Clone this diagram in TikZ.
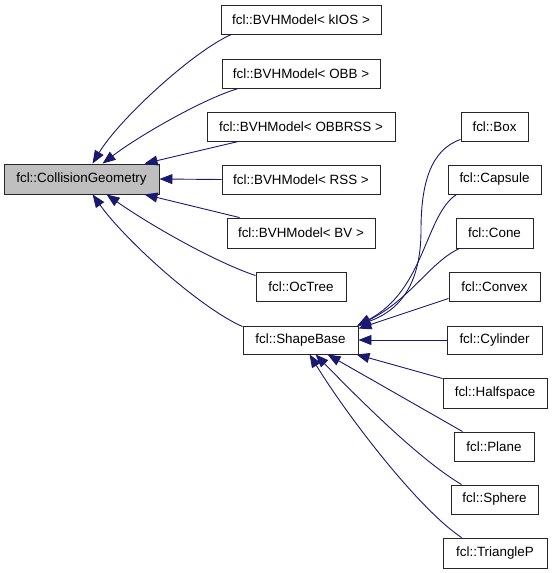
\documentclass[tikz,border=0pt]{standalone}
\usepackage{fontspec}
\setmainfont{Liberation Sans}
\usetikzlibrary{arrows.meta}
\definecolor{mblue}{HTML}{191970}
\begin{document}
\begin{tikzpicture}[x=1pt,y=-1pt,
  cls/.style={draw=black!85, line width=0.9pt, fill=white, rectangle, inner sep=0pt,
    minimum height=29pt, font=\fontsize{13.4}{15}\selectfont, anchor=center},
  basecls/.style={cls, fill=black!25},
  edge/.style={draw=mblue, line width=0.9pt, -{Triangle[length=13pt,width=10pt]}}
]
\useasboundingbox (0,0) rectangle (552,573);
% left / middle column
\node[basecls, minimum width=155pt, minimum height=30pt] (cg) at (81.5,179) {fcl::CollisionGeometry};
\node[cls, minimum width=160pt] (kios) at (301,19.5) {fcl::BVHModel< kIOS >};
\node[cls, minimum width=158pt] (obb) at (301,73.5) {fcl::BVHModel< OBB >};
\node[cls, minimum width=188pt] (obbrss) at (301,126.5) {fcl::BVHModel< OBBRSS >};
\node[cls, minimum width=158pt] (rss) at (301,179.5) {fcl::BVHModel< RSS >};
\node[cls, minimum width=148pt, minimum height=30pt] (bv) at (301,233) {fcl::BVHModel< BV >};
\node[cls, minimum width=90pt] (octree) at (301,286.5) {fcl::OcTree};
\node[cls, minimum width=115pt, minimum height=28pt] (sb) at (300.5,340) {fcl::ShapeBase};
% right column
\node[cls, minimum width=67pt] (box) at (494.5,126.5) {fcl::Box};
\node[cls, minimum width=93pt] (capsule) at (494.5,179.5) {fcl::Capsule};
\node[cls, minimum width=77pt, minimum height=30pt] (cone) at (494.5,233) {fcl::Cone};
\node[cls, minimum width=91pt] (convex) at (494.5,286.5) {fcl::Convex};
\node[cls, minimum width=95pt, minimum height=28pt] (cyl) at (494.5,340) {fcl::Cylinder};
\node[cls, minimum width=104pt, minimum height=30pt] (half) at (495,393) {fcl::Halfspace};
\node[cls, minimum width=80pt] (plane) at (494,446.5) {fcl::Plane};
\node[cls, minimum width=87pt] (sphere) at (494.5,499.5) {fcl::Sphere};
\node[cls, minimum width=104pt, minimum height=30pt] (tri) at (495,553) {fcl::TriangleP};
% edges to CollisionGeometry
\draw[edge] ([xshift=11pt]kios.south west) .. controls (195,50) and (120,118) .. ([xshift=89pt]cg.north west);
\draw[edge] ([xshift=17pt]obb.south west) .. controls (205,98) and (140,135) .. ([xshift=99pt]cg.north west);
\draw[edge] ([xshift=32pt]obbrss.south west) -- ([xshift=141pt]cg.north west);
\draw[edge] (rss.west) -- (cg.east);
\draw[edge] ([xshift=13pt]bv.north west) -- ([xshift=141pt]cg.south west);
\draw[edge] ([yshift=-4pt]octree.north west) .. controls (215,262) and (150,225) .. ([xshift=103pt]cg.south west);
\draw[edge] ([yshift=-1pt]sb.north west) .. controls (200,308) and (125,240) .. ([xshift=89pt]cg.south west);
% edges to ShapeBase
\draw[edge] ([yshift=2pt]box.south west) .. controls (430,150) and (421,185) .. (421,230)
   .. controls (421,290) and (395,312) .. ([xshift=-1pt]sb.north east);
\draw[edge] ([xshift=9pt]capsule.south west) .. controls (425,215) and (425,290) .. ([xshift=-1pt]sb.north east);
\draw[edge] ([xshift=4pt]cone.south west) .. controls (430,262) and (410,300) .. ([xshift=-1pt]sb.north east);
\draw[edge] ([yshift=3pt]convex.south west) -- ([yshift=-3pt]sb.north east);
\draw[edge] (cyl.west) -- (sb.east);
\draw[edge] ([yshift=-1pt]half.north west) -- ([xshift=-2pt]sb.south east);
\draw[edge] ([xshift=9pt]plane.north west) -- ([xshift=85pt]sb.south west);
\draw[edge] ([xshift=11pt]sphere.north west) .. controls (420,460) and (360,400) .. ([xshift=73pt]sb.south west);
\draw[edge] ([xshift=19pt]tri.north west) .. controls (420,510) and (350,420) .. ([xshift=67pt]sb.south west);
\end{tikzpicture}
\end{document}
